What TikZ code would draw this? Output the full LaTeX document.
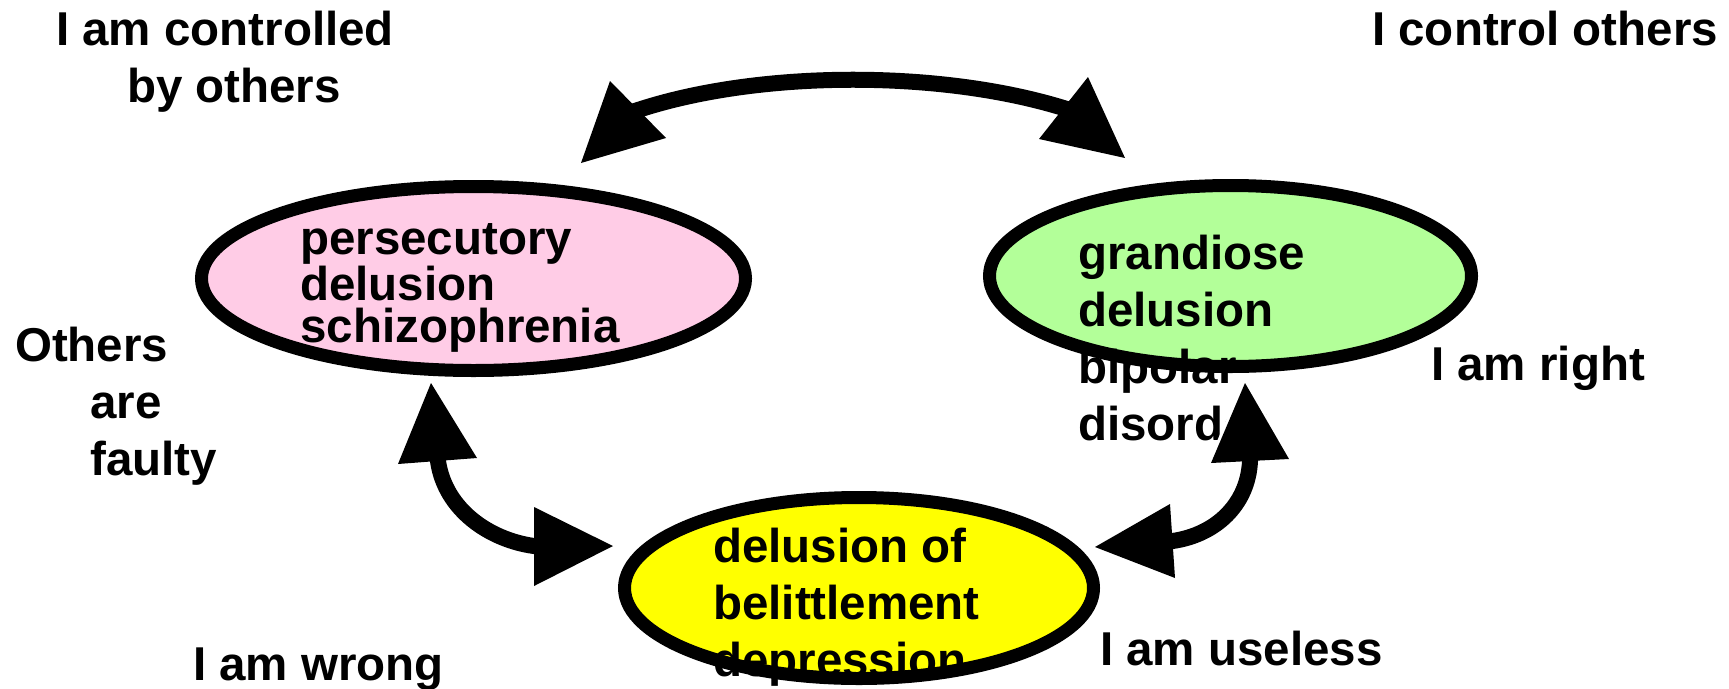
\documentclass[tikz,border=0pt]{standalone}
\usepackage{fontspec}
\setmainfont{Liberation Sans}
\definecolor{pinkfill}{RGB}{255,204,230}
\definecolor{greenfill}{RGB}{179,255,153}
\definecolor{yellowfill}{RGB}{255,255,0}
\begin{document}
\begin{tikzpicture}[x=1pt,y=-1pt,
  txt/.style={font=\bfseries\fontsize{47.5}{57}\selectfont, inner sep=0pt, anchor=base west, align=left},
  tighttxt/.style={txt, font=\bfseries\fontsize{47.5}{42}\selectfont},
  ring/.style={line width=13pt, draw=black},
  shaft/.style={line width=16pt, draw=black},
  head/.style={fill=black},
  halo/.style={draw=white, line width=6pt, line join=miter}]
\fill[white] (0,0) rectangle (1729,688);
\useasboundingbox (0,0) rectangle (1729,688);

% ellipse centres
\coordinate (pinkc) at (473.5,278.5);
\coordinate (greenc) at (1230.5,276);
\coordinate (yellowc) at (859,588);

% pink ellipse (multi-line nodes are placed by the baseline of their last line)
\fill[pinkfill] (pinkc) ellipse [x radius=272pt, y radius=92pt];
\node[tighttxt] (pinktext) at (300,342) {persecutory\\delusion\\schizophrenia};
\draw[ring] (pinkc) ellipse [x radius=272pt, y radius=92pt];

% green ellipse
\fill[greenfill] (greenc) ellipse [x radius=241pt, y radius=90.5pt];
\node[txt] (greentext) at (1078,440) {grandiose\\delusion\\bipolar\\disorder};
\draw[ring] (greenc) ellipse [x radius=241pt, y radius=90.5pt];

% yellow ellipse
\fill[yellowfill] (yellowc) ellipse [x radius=234.5pt, y radius=90.5pt];
\node[txt] (yellowtext) at (713,676) {delusion of\\belittlement\\depression};
\draw[ring] (yellowc) ellipse [x radius=234.5pt, y radius=90.5pt];

% free labels
\node[txt, anchor=base, align=center] (ctrl) at (225,102) {I am controlled\\\hspace*{18pt}by others};
\node[txt] (ictrl) at (1372,45) {I control others};
\node[txt] (faulty) at (15,475) {Others\\\hspace*{75pt}are\\\hspace*{75pt}faulty};
\node[txt] (right) at (1431,380) {I am right};
\node[txt] (useless) at (1100,665) {I am useless};
\node[txt] (wrong) at (193,680) {I am wrong};

% top arrow
\coordinate (tLin) at (619,116);
\coordinate (tL) at (638,110);
\coordinate (tR) at (1063.5,108);
\coordinate (tRin) at (1083,114);
\draw[shaft] (tLin) -- (tL) .. controls (760,70) and (940,70) .. (tR) -- (tRin);
\fill[head] (581,163) -- (610,81) -- (666,138) -- cycle;
\fill[head] (1125,158) -- (1088,77) -- (1039,139) -- cycle;

% lower-left arrow
\coordinate (lUin) at (435,441);
\coordinate (lU) at (438,461);
\coordinate (lR) at (534,546);
\coordinate (lRin) at (554,549);
\draw[shaft] (lUin) -- (lU) .. controls (445,510) and (490,540) .. (lR) -- (lRin);
\fill[head] (431,383) -- (398,464) -- (477,458) -- cycle;
\fill[head] (613,546) -- (534,507) -- (534,586) -- cycle;

% lower-right arrow
\draw[halo] (1245,383) -- (1211,463) -- (1289,459) -- cycle;
\coordinate (rUin) at (1251,441);
\coordinate (rU) at (1250,461);
\coordinate (rL) at (1172.5,541);
\coordinate (rLin) at (1153,544);
\draw[shaft] (rUin) -- (rU) .. controls (1248,505) and (1215,535) .. (rL) -- (rLin);
\fill[head] (1245,383) -- (1211,463) -- (1289,459) -- cycle;
\fill[head] (1095,547) -- (1170,504) -- (1175,578) -- cycle;
\end{tikzpicture}
\end{document}
